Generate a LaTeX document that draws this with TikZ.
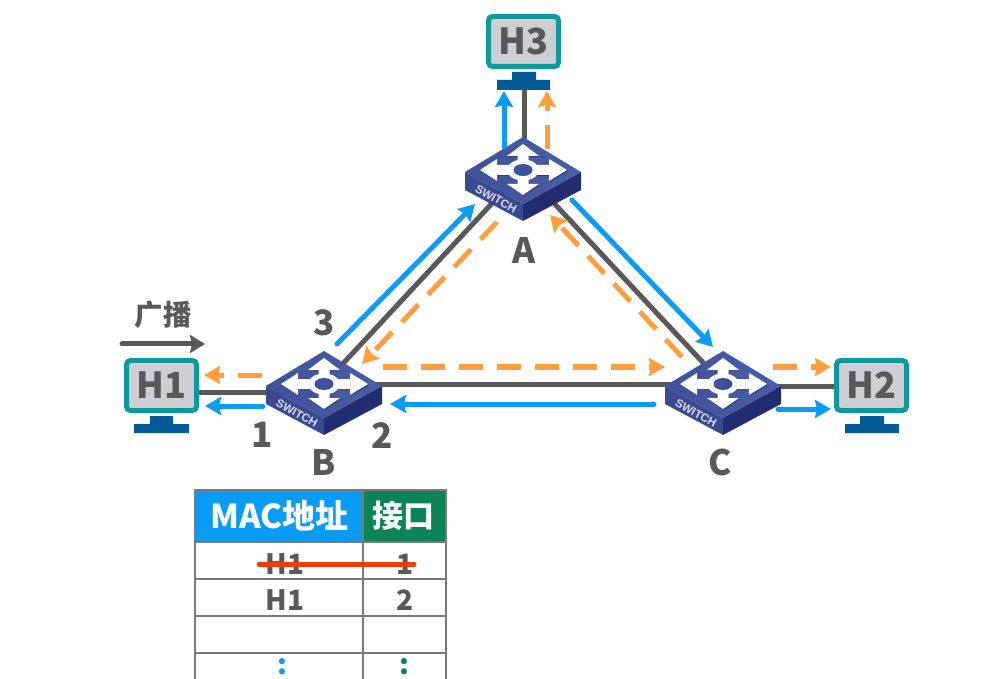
\documentclass[tikz,border=0pt]{standalone}
\usepackage{fontspec}
\setmainfont{Noto Sans CJK SC}
\newfontfamily\swfont{Liberation Sans}
\usetikzlibrary{arrows.meta}
\definecolor{linegray}{HTML}{595959}
\definecolor{txtgray}{HTML}{595959}
\definecolor{blueflow}{HTML}{0A9BF5}
\definecolor{orangeflow}{HTML}{FF9E3D}
\definecolor{tealframe}{HTML}{0E9A9C}
\definecolor{screen}{HTML}{CFCFD3}
\definecolor{standblue}{HTML}{005B96}
\definecolor{hdrblue}{HTML}{0A9BF5}
\definecolor{hdrgreen}{HTML}{0B8457}
\definecolor{gridgray}{HTML}{7A7A7A}
\definecolor{swtop}{HTML}{3F5198}
\definecolor{swtoplight}{HTML}{4A5EA6}
\definecolor{swleft}{HTML}{3A4A90}
\definecolor{swright}{HTML}{222C70}
\definecolor{swshadow}{HTML}{2F3A78}
\definecolor{strike}{HTML}{F03C0A}
\newcommand{\swarrows}{(-43,0) -- (-26,-11) -- (-26,-5) -- (-11,-5) -- (-5.5,-8) -- (-5.5,-14) -- (-16,-14) -- (0,-26) -- (16,-14) -- (5.5,-14) -- (5.5,-8) -- (11,-5) -- (26,-5) -- (26,-11) -- (44,0) -- (26,11) -- (26,5) -- (11,5) -- (5.5,8) -- (5.5,14) -- (16,14) -- (0,25) -- (-16,14) -- (-5.5,14) -- (-5.5,8) -- (-11,5) -- (-26,5) -- (-26,11) -- cycle}
\tikzset{
  x=1pt,y=-1pt,
  link/.style={draw=linegray,line width=5pt},
  blueline/.style={draw=blueflow,line width=5pt,line cap=round,-{Stealth[length=16pt,width=18pt,inset=2pt]}},
  orangeline/.style={draw=orangeflow,line width=5pt,dash pattern=on 24pt off 14pt,-{Stealth[length=16pt,width=18pt,inset=2pt]}},
  bigtxt/.style={font=\fontsize{35}{35}\selectfont\bfseries,text=txtgray,inner sep=0pt},
  monitor/.style={draw=tealframe,fill=screen,line width=5pt,rounded corners=4pt,minimum width=70pt,minimum height=50pt,inner sep=0pt,font=\fontsize{36}{36}\selectfont\bfseries,text=txtgray},
  hdrcell/.style={font=\fontsize{33}{33}\selectfont\bfseries,text=white,inner sep=0pt},
  hdrcellb/.style={font=\fontsize{31}{31}\selectfont\bfseries,text=white,inner sep=0pt},
  cellfull/.style={font=\fontsize{28}{28}\selectfont\bfseries,text=txtgray,inner sep=0pt},
  switchbox/.pic={
    \fill[swleft] (-58,2) -- (0,34) -- (0,51) -- (-58,20) -- cycle;
    \fill[swright] (58,2) -- (0,34) -- (0,51) -- (58,20) -- cycle;
    \shade[left color=swtop,right color=swtoplight] (-58,2) -- (0,-33) -- (58,2) -- (0,34) -- cycle;
    \fill[swshadow,xshift=0.7pt,yshift=-1pt] \swarrows;
    \fill[white] \swarrows;
    \fill[white] (0,0) ellipse [x radius=16pt,y radius=10.5pt];
    \fill[swtop] (0,0) ellipse [x radius=9.5pt,y radius=6pt];
    \node[rotate=-29,text=white!80!swleft,inner sep=0pt,font=\swfont\fontsize{11.5}{11.5}\selectfont\bfseries] at (-27,29) {SWITCH};
  }
}
\begin{document}
\begin{tikzpicture}
\useasboundingbox (0,0) rectangle (1005,679);
\fill[white] (0,0) rectangle (1005,679);

% switch and host positions
\coordinate (A) at (523,170);
\coordinate (B) at (324,384);
\coordinate (C) at (723,384);
\node[monitor] (H3) at (523.5,41.5) {H3};
\node[monitor] (H1) at (161.5,385.5) {H1};
\node[monitor] (H2) at (871.5,385.5) {H2};

% monitor stands
\fill[standblue] (512,72) rectangle (536,80) (497,80) rectangle (550,90);
\fill[standblue] (150,416) rectangle (173,424) (134,424) rectangle (189,433);
\fill[standblue] (860,416) rectangle (884,424) (845,424) rectangle (899,433);

% links
\coordinate (h3base) at (524,90);
\coordinate (asw) at (524,145);
\coordinate (bsw) at (290,392);
\coordinate (csw) at (760,386);
\draw[link] (h3base) -- (asw);
\draw[link] (H1.east |- bsw) -- (bsw);
\draw[link] (H2.west |- csw) -- (csw);
\draw[link] (B) -- (A);
\draw[link] (A) -- (C);
\draw[link] (B) -- (C);

% switches
\pic at (A) {switchbox};
\pic at (B) {switchbox};
\pic at (C) {switchbox};

% blue flows
\coordinate (f1a) at (504,147); \coordinate (f1b) at (504,91);
\coordinate (f2a) at (263,406); \coordinate (f2b) at (205,406);
\coordinate (f3a) at (654,404); \coordinate (f3b) at (390,404);
\coordinate (f4a) at (337,344); \coordinate (f4b) at (475,204);
\coordinate (f5a) at (572,200); \coordinate (f5b) at (713,347);
\coordinate (f6a) at (778,409); \coordinate (f6b) at (831,409);
\draw[blueline] (f1a) -- (f1b);
\draw[blueline] (f2a) -- (f2b);
\draw[blueline] (f3a) -- (f3b);
\draw[blueline] (f4a) -- (f4b);
\draw[blueline] (f5a) -- (f5b);
\draw[blueline] (f6a) -- (f6b);

% orange flows
\coordinate (g1a) at (547,149); \coordinate (g1b) at (547,91);
\coordinate (g2a) at (262,375); \coordinate (g2b) at (204,375);
\coordinate (g3a) at (383,367); \coordinate (g3b) at (665,367);
\coordinate (g4a) at (497,222); \coordinate (g4b) at (362,364);
\coordinate (g5a) at (682,357); \coordinate (g5b) at (550,215);
\coordinate (g6a) at (773,367); \coordinate (g6b) at (831,367);
\draw[orangeline] (g1a) -- (g1b);
\draw[orangeline] (g2a) -- (g2b);
\draw[orangeline] (g3a) -- (g3b);
\draw[orangeline] (g4a) -- (g4b);
\draw[orangeline] (g5a) -- (g5b);
\draw[orangeline] (g6a) -- (g6b);

% broadcast
\coordinate (bca) at (122,344); \coordinate (bcb) at (205,344);
\draw[draw=linegray,line width=5pt,line cap=round,-{Stealth[length=15pt,width=18pt,inset=2pt]}] (bca) -- (bcb);
\node[font=\fontsize{28.5}{28.5}\selectfont\bfseries,text=txtgray,inner sep=0pt] (bc) at (163,315) {广播};

% labels
\node[bigtxt] (la) at (524,250) {A};
\node[bigtxt] (lb) at (324,462) {B};
\node[bigtxt] (lc) at (720,462) {C};
\node[bigtxt] (p1) at (262,435) {1};
\node[bigtxt] (p2) at (382,436) {2};
\node[bigtxt] (p3) at (324,323) {3};

% table
\fill[hdrblue] (195,490) rectangle (363,542);
\fill[hdrgreen] (363,490) rectangle (446,542);
\draw[gridgray,line width=1.5pt] (195,679) -- (195,490) -- (446,490) -- (446,679);
\draw[gridgray,line width=1.5pt] (363,490) -- (363,679);
\draw[gridgray,line width=1.5pt] (195,542) -- (446,542) (195,579) -- (446,579) (195,616) -- (446,616) (195,653) -- (446,653);
\node[hdrcell] (t1) at (279.5,516) {MAC地址};
\node[hdrcellb] (t2) at (403,516) {接口};
\node[cellfull] (r1a) at (285,564) {H1};
\node[cellfull] (r1b) at (405,564) {1};
\node[cellfull] (r2a) at (285,600) {H1};
\node[cellfull] (r2b) at (405,600) {2};
\node[cellfull,text=blueflow] (r4a) at (282,667) {:};
\node[cellfull,text=hdrgreen] (r4b) at (404,667) {:};
\coordinate (sa) at (259,564); \coordinate (sb) at (414,564);
\draw[strike,line width=5pt,line cap=round] (sa) -- (sb);
\end{tikzpicture}
\end{document}
